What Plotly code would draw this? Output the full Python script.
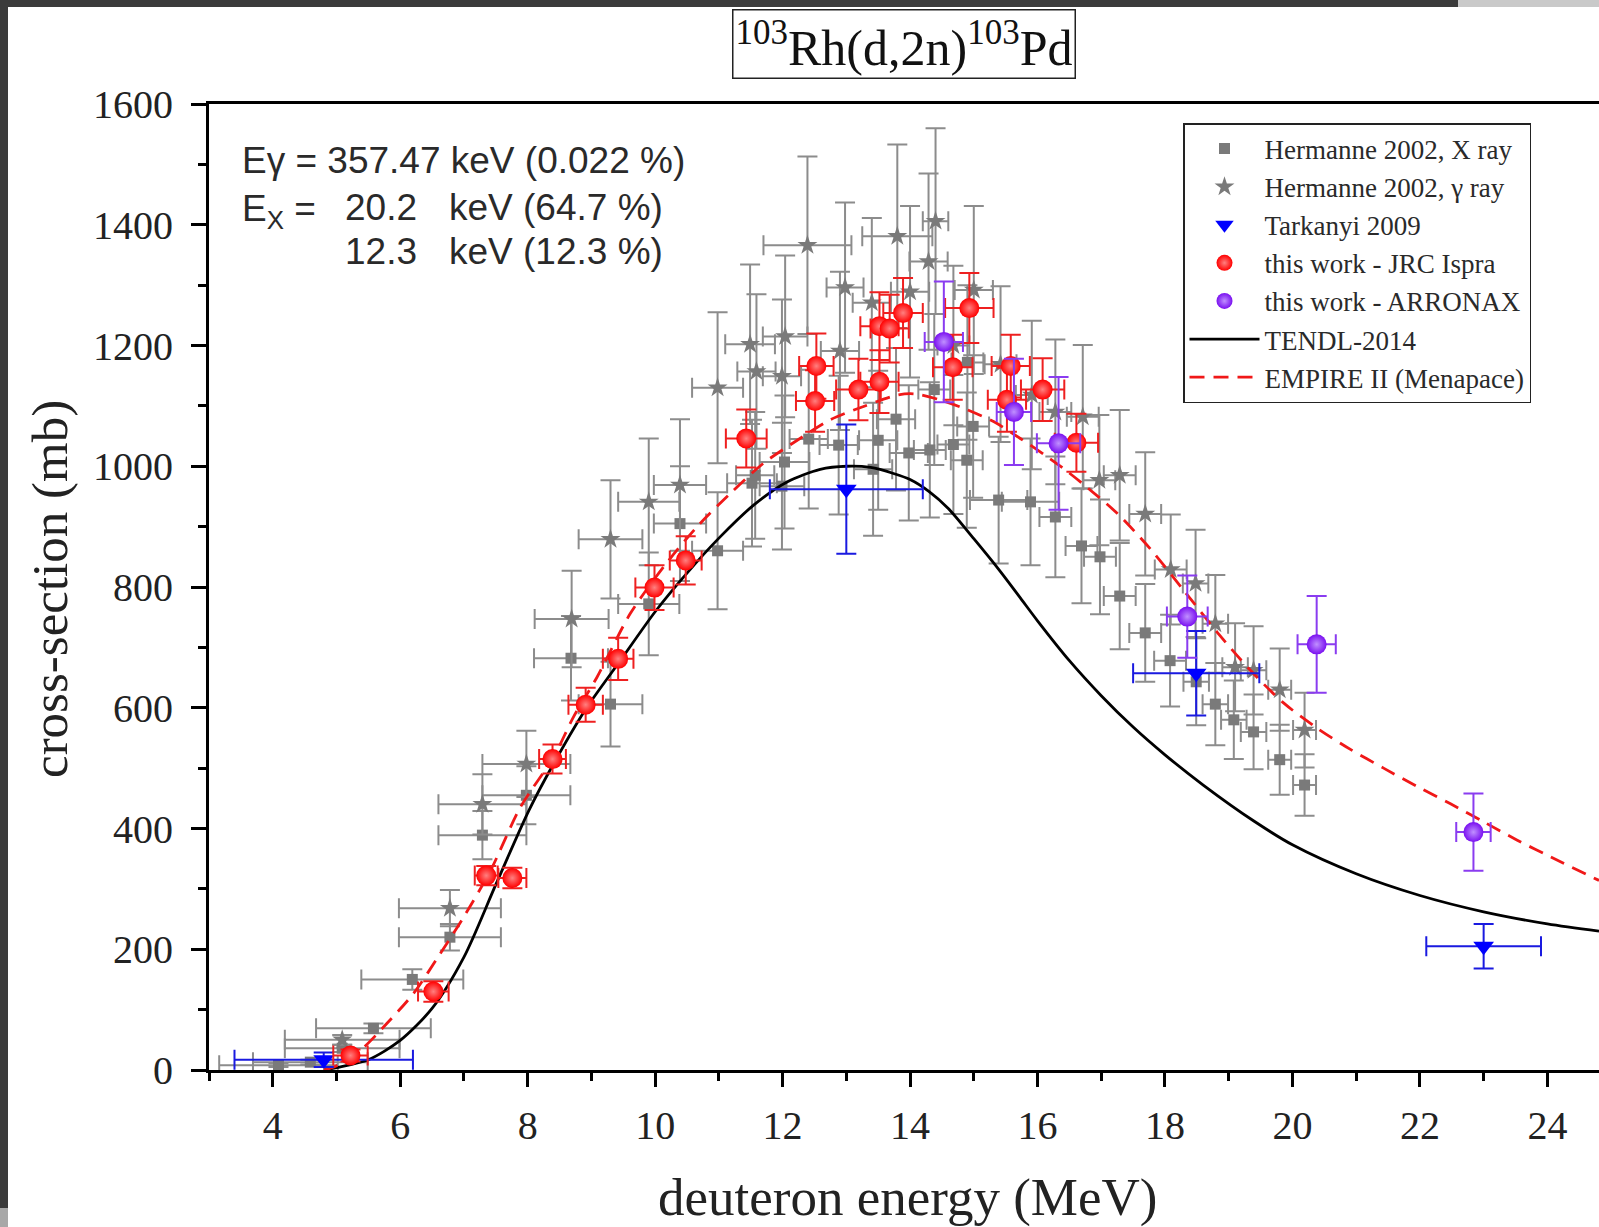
import plotly.graph_objects as go

# ---------------- data ----------------
# Hermanne 2002, X ray (squares)
hx_E = [4.09, 4.59, 5.09, 5.58, 6.19, 6.78, 7.29, 7.98, 8.68, 9.30, 9.90, 10.39, 10.98, 11.52, 11.57,
        11.99, 12.03, 12.41, 12.88, 13.42, 13.50, 13.78, 13.98, 14.31, 14.38, 14.68, 14.89, 14.99,
        14.90, 15.39, 15.89, 16.28, 16.69, 16.98, 17.29, 17.69, 18.08, 18.49, 18.79, 19.08, 19.39,
        19.80, 20.19]
hx_sig = [8, 13, 36, 69, 150, 220, 389, 455, 682, 606, 772, 905, 860, 972, 985,
          967, 1007, 1045, 1035, 995, 1043, 1078, 1022, 1027, 1127, 1036, 1010, 1066,
          1172, 944, 941, 916, 868, 850, 785, 724, 678, 643, 606, 580, 560,
          514, 472]
hx_dE = [0.93, 0.9, 0.9, 0.9, 0.8, 0.8, 0.69, 0.69, 0.58, 0.5, 0.48, 0.41, 0.4, 0.39, 0.3,
         0.35, 0.39, 0.3, 0.3, 0.3, 0.3, 0.3, 0.3, 0.25, 0.25, 0.25, 0.25, 0.25,
         0.25, 0.45, 0.45, 0.25, 0.25, 0.25, 0.25, 0.25, 0.25, 0.2, 0.2, 0.2, 0.2,
         0.18, 0.18]
hx_dsig = [3, 4, 6, 8, 17, 22, 40, 48, 70, 70, 85, 95, 97, 105, 105,
           105, 110, 115, 115, 110, 115, 118, 112, 112, 125, 115, 112, 118,
           128, 105, 105, 100, 95, 95, 88, 81, 76, 72, 68, 65, 62,
           58, 51]

# Hermanne 2002, gamma ray (stars)
hg_E = [5.09, 6.78, 7.29, 7.98, 8.69, 9.30, 9.90, 10.39, 10.98, 11.49, 11.59, 11.99, 12.04, 12.39,
        12.90, 12.98, 13.40, 13.80, 14.00, 14.29, 14.40, 14.68, 15.00, 15.42, 15.91, 16.28, 16.71,
        16.97, 17.29, 17.69, 18.09, 18.48, 18.79, 19.10, 19.39, 19.80, 20.19]
hg_sig = [50, 268, 440, 507, 747, 879, 941, 969, 1130, 1202, 1157, 1149, 1215, 1366,
          1191, 1296, 1271, 1381, 1289, 1339, 1406, 1200, 1292, 1169, 1118, 1090, 1082,
          977, 985, 921, 829, 806, 739, 667, 662, 630, 563]
hg_dE = [0.9, 0.8, 0.69, 0.69, 0.58, 0.5, 0.48, 0.41, 0.4, 0.39, 0.3, 0.3, 0.35, 0.69,
         0.3, 0.29, 0.3, 0.55, 0.3, 0.3, 0.2, 0.25, 0.3, 0.25, 0.25, 0.25, 0.25,
         0.25, 0.25, 0.25, 0.25, 0.2, 0.2, 0.2, 0.2, 0.18, 0.18]
hg_dsig = [8, 30, 50, 55, 80, 98, 105, 109, 125, 132, 128, 127, 134, 147,
           131, 141, 140, 152, 142, 146, 154, 132, 139, 129, 123, 120, 119,
           108, 108, 102, 91, 89, 81, 73, 73, 68, 62]

# Tarkanyi 2009 (triangles)
tk_E = [4.80, 13.00, 18.49, 23.00]
tk_sig = [17, 962, 657, 205]
tk_dE = [1.4, 1.2, 0.99, 0.9]
tk_dsig = [12, 107, 70, 37]

# this work - JRC Ispra
jrc_E = [5.22, 6.52, 7.35, 7.76, 8.39, 8.91, 9.42, 9.99, 10.48, 11.43, 12.51, 12.53, 13.19, 13.52,
         13.52, 13.68, 13.89, 14.67, 14.93, 15.52, 15.58, 16.08, 16.61]
jrc_sig = [24, 130, 322, 318, 515, 605, 681, 799, 844, 1046, 1108, 1166, 1127, 1140,
           1232, 1228, 1254, 1164, 1262, 1110, 1166, 1127, 1039]
jrc_dE = [0.27, 0.24, 0.18, 0.22, 0.21, 0.27, 0.24, 0.3, 0.25, 0.32, 0.3, 0.27, 0.35, 0.3,
          0.3, 0.3, 0.31, 0.31, 0.38, 0.3, 0.3, 0.34, 0.34]
jrc_dsig = [10, 17, 16, 17, 24, 28, 35, 37, 40, 48, 51, 54, 51, 52,
            56, 56, 58, 54, 58, 53, 52, 52, 48]

# this work - ARRONAX
arr_E = [14.53, 15.63, 16.33, 18.35, 20.38, 22.84]
arr_sig = [1206, 1090, 1038, 751, 705, 394]
arr_dE = [0.3, 0.27, 0.34, 0.32, 0.3, 0.27]
arr_dsig = [100, 88, 110, 68, 80, 64]

# TENDL-2014
tendl_E = [4.80, 5.00, 5.50, 6.00, 6.50, 7.00, 7.50, 8.02, 8.40, 8.90, 9.46, 10.00, 10.50, 11.02,
           11.55, 12.07, 12.59, 13.01, 13.38, 13.74, 14.00, 14.30, 14.60, 15.00, 15.40, 15.73,
           16.00, 16.50, 17.00, 17.50, 18.00, 18.60, 19.40, 20.00, 21.00, 22.00, 23.00, 24.00,
           24.81]
tendl_sig = [0, 4, 17, 49, 102, 187, 307, 430, 506, 596, 679, 759, 823, 883,
             936, 974, 995, 1000, 998, 988, 978, 958, 930, 880, 828, 782,
             744, 678, 620, 568, 522, 472, 412, 373, 325, 289, 262, 242,
             230]

# EMPIRE II (Menapace)
emp_E = [4.80, 4.96, 5.38, 5.79, 6.21, 6.63, 7.00, 7.42, 7.89, 8.41, 8.72, 9.09, 9.61, 10.13,
         10.66, 11.18, 11.70, 12.23, 12.75, 13.27, 13.80, 14.06, 14.47, 14.89, 15.31, 15.73,
         16.15, 16.46, 16.72, 17.25, 17.77, 18.29, 18.82, 19.34, 19.86, 20.39, 20.91, 21.43,
         21.95, 22.48, 23.00, 23.52, 24.05, 24.81]
emp_sig = [0, 5, 33, 77, 127, 193, 254, 331, 436, 519, 585, 651, 756, 833,
           900, 955, 1005, 1043, 1077, 1099, 1118, 1120, 1110, 1094, 1074, 1046,
           1016, 992, 970, 922, 863, 795, 725, 662, 608, 566, 531, 500,
           470, 441, 411, 381, 353, 314]

x_range = [3, 24.81]
y_range = [0, 1600]

# ---------------- layout helpers ----------------
W, H = 1599, 1227
L, R, T, B = 209, 0, 104, 157
PW = W - L - R
PH = H - T - B


def px_x(px):
    return (px - L) / PW


def px_y(py):
    return 1 - (py - T) / PH


SERIF = "Liberation Serif, Times New Roman, serif"
SANS = "Liberation Sans, Arial, sans-serif"

fig = go.Figure()

fig.add_trace(go.Scatter(
    x=hx_E, y=hx_sig, mode="markers", name="Hermanne 2002, X ray", legendrank=1,
    marker=dict(symbol="square", size=11, color="#7a7a7a", line=dict(width=0)),
    error_x=dict(type="data", array=hx_dE, color="#8c8c8c", thickness=2, width=10),
    error_y=dict(type="data", array=hx_dsig, color="#8c8c8c", thickness=2, width=10),
))
fig.add_trace(go.Scatter(
    x=hg_E, y=hg_sig, mode="markers", name="Hermanne 2002, γ ray", legendrank=2,
    marker=dict(symbol="star", size=15, color="#7a7a7a", line=dict(width=0)),
    error_x=dict(type="data", array=hg_dE, color="#8c8c8c", thickness=2, width=10),
    error_y=dict(type="data", array=hg_dsig, color="#8c8c8c", thickness=2, width=10),
))
fig.add_trace(go.Scatter(
    x=tendl_E, y=tendl_sig, mode="lines", name="TENDL-2014", legendrank=6,
    line=dict(color="black", width=2.8, shape="spline", smoothing=0.8),
))
fig.add_trace(go.Scatter(
    x=emp_E, y=emp_sig, mode="lines", name="EMPIRE II (Menapace)", legendrank=7,
    line=dict(color="#f01818", width=2.8, dash="15px,9px", shape="spline", smoothing=0.8),
))
fig.add_trace(go.Scatter(
    x=tk_E, y=tk_sig, mode="markers", name="Tarkanyi 2009", legendrank=3,
    marker=dict(symbol="triangle-down", size=18, color="#0000ff", line=dict(width=0)),
    error_x=dict(type="data", array=tk_dE, color="#1a1ae0", thickness=2, width=10),
    error_y=dict(type="data", array=tk_dsig, color="#1a1ae0", thickness=2, width=10),
))
fig.add_trace(go.Scatter(
    x=jrc_E, y=jrc_sig, mode="markers", name="this work - JRC Ispra", legendrank=4,
    marker=dict(symbol="circle", size=20, color="#ff0000",
                gradient=dict(type="radial", color="#ff8080"), line=dict(width=0)),
    error_x=dict(type="data", array=jrc_dE, color="#ee2020", thickness=2, width=10),
    error_y=dict(type="data", array=jrc_dsig, color="#ee2020", thickness=2, width=10),
))
fig.add_trace(go.Scatter(
    x=arr_E, y=arr_sig, mode="markers", name="this work - ARRONAX", legendrank=5,
    marker=dict(symbol="circle", size=20, color="#7a10f0",
                gradient=dict(type="radial", color="#c090ff"), line=dict(width=0)),
    error_x=dict(type="data", array=arr_dE, color="#8a3cf0", thickness=2, width=10),
    error_y=dict(type="data", array=arr_dsig, color="#8a3cf0", thickness=2, width=10),
))

annotations = [
    dict(text="<sup>103</sup>Rh(d,2n)<sup>103</sup>Pd", x=px_x(903.5), y=px_y(44),
         xref="paper", yref="paper", xanchor="center", yanchor="middle", showarrow=False,
         font=dict(family=SERIF, size=50, color="#111"), bordercolor="#222", borderwidth=1.5,
         borderpad=2, bgcolor="white"),
    dict(text="deuteron energy (MeV)", x=px_x(907), y=px_y(1197), xref="paper", yref="paper",
         xanchor="center", yanchor="middle", showarrow=False,
         font=dict(family=SERIF, size=53, color="#222")),
    dict(text="cross-section (mb)", x=px_x(50), y=px_y(589), xref="paper", yref="paper",
         xanchor="center", yanchor="middle", showarrow=False, textangle=-90,
         font=dict(family=SERIF, size=51, color="#222")),
    dict(text="Eγ = 357.47 keV (0.022 %)", x=px_x(240), y=px_y(161), xref="paper", yref="paper",
         xanchor="left", yanchor="middle", showarrow=False,
         font=dict(family=SANS, size=37, color="#2a2a2a")),
    dict(text="E<sub>X</sub> =", x=px_x(240), y=px_y(211), xref="paper", yref="paper",
         xanchor="left", yanchor="middle", showarrow=False,
         font=dict(family=SANS, size=37, color="#2a2a2a")),
    dict(text="20.2", x=px_x(343), y=px_y(207), xref="paper", yref="paper",
         xanchor="left", yanchor="middle", showarrow=False,
         font=dict(family=SANS, size=37, color="#2a2a2a")),
    dict(text="keV (64.7 %)", x=px_x(447), y=px_y(207), xref="paper", yref="paper",
         xanchor="left", yanchor="middle", showarrow=False,
         font=dict(family=SANS, size=37, color="#2a2a2a")),
    dict(text="12.3", x=px_x(343), y=px_y(251), xref="paper", yref="paper",
         xanchor="left", yanchor="middle", showarrow=False,
         font=dict(family=SANS, size=37, color="#2a2a2a")),
    dict(text="keV (12.3 %)", x=px_x(447), y=px_y(251), xref="paper", yref="paper",
         xanchor="left", yanchor="middle", showarrow=False,
         font=dict(family=SANS, size=37, color="#2a2a2a")),
]

shapes = [
    dict(type="rect", xref="paper", yref="paper", x0=px_x(0), x1=px_x(W), y0=px_y(7), y1=px_y(0),
         fillcolor="#3b3b3b", line=dict(width=0), layer="above"),
    dict(type="rect", xref="paper", yref="paper", x0=px_x(1458), x1=px_x(W), y0=px_y(7), y1=px_y(0),
         fillcolor="#c9c9c9", line=dict(width=0), layer="above"),
    dict(type="rect", xref="paper", yref="paper", x0=px_x(0), x1=px_x(8), y0=px_y(1208), y1=px_y(0),
         fillcolor="#3b3b3b", line=dict(width=0), layer="above"),
    dict(type="rect", xref="paper", yref="paper", x0=px_x(0), x1=px_x(8), y0=px_y(H), y1=px_y(1208),
         fillcolor="#a8a8a8", line=dict(width=0), layer="above"),
]

fig.update_layout(
    width=W, height=H,
    margin=dict(l=L, r=R, t=T, b=B, pad=0),
    paper_bgcolor="white", plot_bgcolor="white",
    showlegend=True,
    legend=dict(x=px_x(1183), y=px_y(123), xanchor="left", yanchor="top",
                bgcolor="white", bordercolor="#222", borderwidth=1.5,
                font=dict(family=SERIF, size=27, color="#2a2a2a"),
                itemwidth=70, tracegroupgap=0, traceorder="normal",
                entrywidth=300, entrywidthmode="pixels"),
    xaxis=dict(range=x_range, tick0=0, dtick=2, ticks="outside", ticklen=14, tickwidth=2.5,
               tickcolor="black", showline=True, linewidth=3, linecolor="black", mirror=True,
               showgrid=False, zeroline=False, ticklabelstandoff=4,
               tickfont=dict(family=SERIF, size=40, color="#222"),
               minor=dict(dtick=1, ticks="outside", ticklen=8, tickwidth=2.5, tickcolor="black",
                          showgrid=False)),
    yaxis=dict(range=y_range, tick0=0, dtick=200, ticks="outside", ticklen=15, tickwidth=2.5,
               tickcolor="black", showline=True, linewidth=3, linecolor="black", mirror=False,
               showgrid=False, zeroline=False, ticklabelstandoff=10,
               tickfont=dict(family=SERIF, size=40, color="#222"),
               minor=dict(dtick=100, ticks="outside", ticklen=8, tickwidth=2.5, tickcolor="black",
                          showgrid=False)),
    annotations=annotations,
    shapes=shapes,
)

fig.write_html("out.html")
